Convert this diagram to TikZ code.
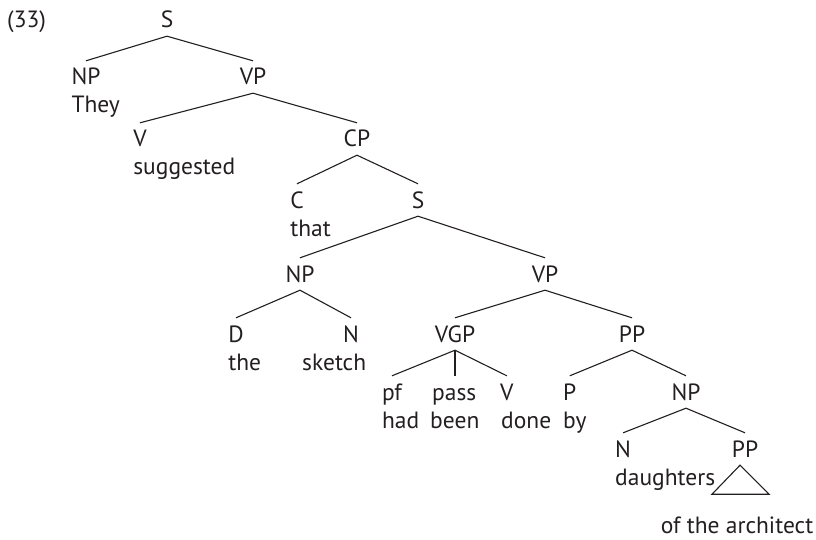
\documentclass[tikz,border=0pt]{standalone}
\usepackage{fontspec}
\setmainfont{PT Sans}
\usepackage{tikz}
\usetikzlibrary{positioning, calc}
\definecolor{ink}{RGB}{35,31,32}

\begin{document}
\begin{tikzpicture}[x=1pt, y=-1pt, color=ink]
\tikzset{
  cat/.style={inner xsep=0pt,inner ysep=8pt,text height=16pt,text depth=0pt,anchor=base,font=\fontsize{23.5}{28}\selectfont},
  word/.style={inner sep=0pt,anchor=base west,font=\fontsize{23.5}{28}\selectfont},
  br/.style={line width=1.1pt,draw=ink}
}
\useasboundingbox (0,0) rectangle (816,540);
\node[word] (ex) at (7,28) {(33)};
% ---- categories
\node[cat] (s)   at (167,28)  {S};
\node[cat] (np)  at (86,85)   {NP};
\node[cat] (vp)  at (253,85)  {VP};
\node[cat] (v)   at (140,147) {V};
\node[cat] (cp)  at (357,147) {CP};
\node[cat] (c)   at (297,208) {C};
\node[cat] (ss)  at (418,208) {S};
\node[cat] (snp) at (300,282) {NP};
\node[cat] (svp) at (545,282) {VP};
\node[cat] (d)   at (236,342) {D};
\node[cat] (n)   at (351,342) {N};
\node[cat] (vgp) at (455,342) {VGP};
\node[cat] (pp)  at (632,342) {PP};
\node[cat] (pf)  at (392,400) {pf};
\node[cat,anchor=base west] (pass) at (432,400) {pass};
\node[cat,anchor=base west] (vv)   at (500,400) {V};
\node[cat,anchor=base west] (p)    at (563,400) {P};
\node[cat] (pnp) at (686,400) {NP};
\node[cat,anchor=base west] (pn)   at (615,457) {N};
\node[cat] (ppp) at (745,457) {PP};
% ---- words
\node[word] at ([yshift=-28pt]np.base west) {They};
\node[word] at ([yshift=-28pt]v.base west) {suggested};
\node[word] at ([yshift=-28pt]c.base west) {that};
\node[word] at ([yshift=-28pt]d.base west) {the};
\node[word] at (302,370) {sketch};
\node[word] at ([yshift=-28pt]pf.base west) {had};
\node[word] at (430,428) {been};
\node[word] at (501,428) {done};
\node[word] at ([yshift=-28pt]p.base west) {by};
\node[word] at ([yshift=-28pt]pn.base west) {daughters};
\node[word,anchor=base] (arch) at (737,533) {of the architect};
% ---- branches
\draw[br] (s.south)--(np.north); \draw[br] (s.south)--(vp.north);
\draw[br] (vp.south)--(v.north); \draw[br] (vp.south)--(cp.north);
\draw[br] (cp.south)--(c.north); \draw[br] (cp.south)--(ss.north);
\draw[br] (ss.south)--(snp.north); \draw[br] (ss.south)--(svp.north);
\draw[br] (snp.south)--(d.north); \draw[br] (snp.south)--(n.north);
\draw[br] (svp.south)--(vgp.north); \draw[br] (svp.south)--(pp.north);
\draw[br] (vgp.south)--(pf.north);
\draw[br] (vgp.south)--(vgp.south |- pass.north);
\draw[br] (vgp.south)--(vv.north);
\draw[br] (pp.south)--(p.north); \draw[br] (pp.south)--(pnp.north);
\draw[br] (pnp.south)--(pn.north); \draw[br] (pnp.south)--(ppp.north);
% ---- roof over PP
\draw[br,line join=miter] ([xshift=-5pt]ppp.south) -- ++(-28,29) -- ++(57,0) -- cycle;
\end{tikzpicture}
\end{document}
